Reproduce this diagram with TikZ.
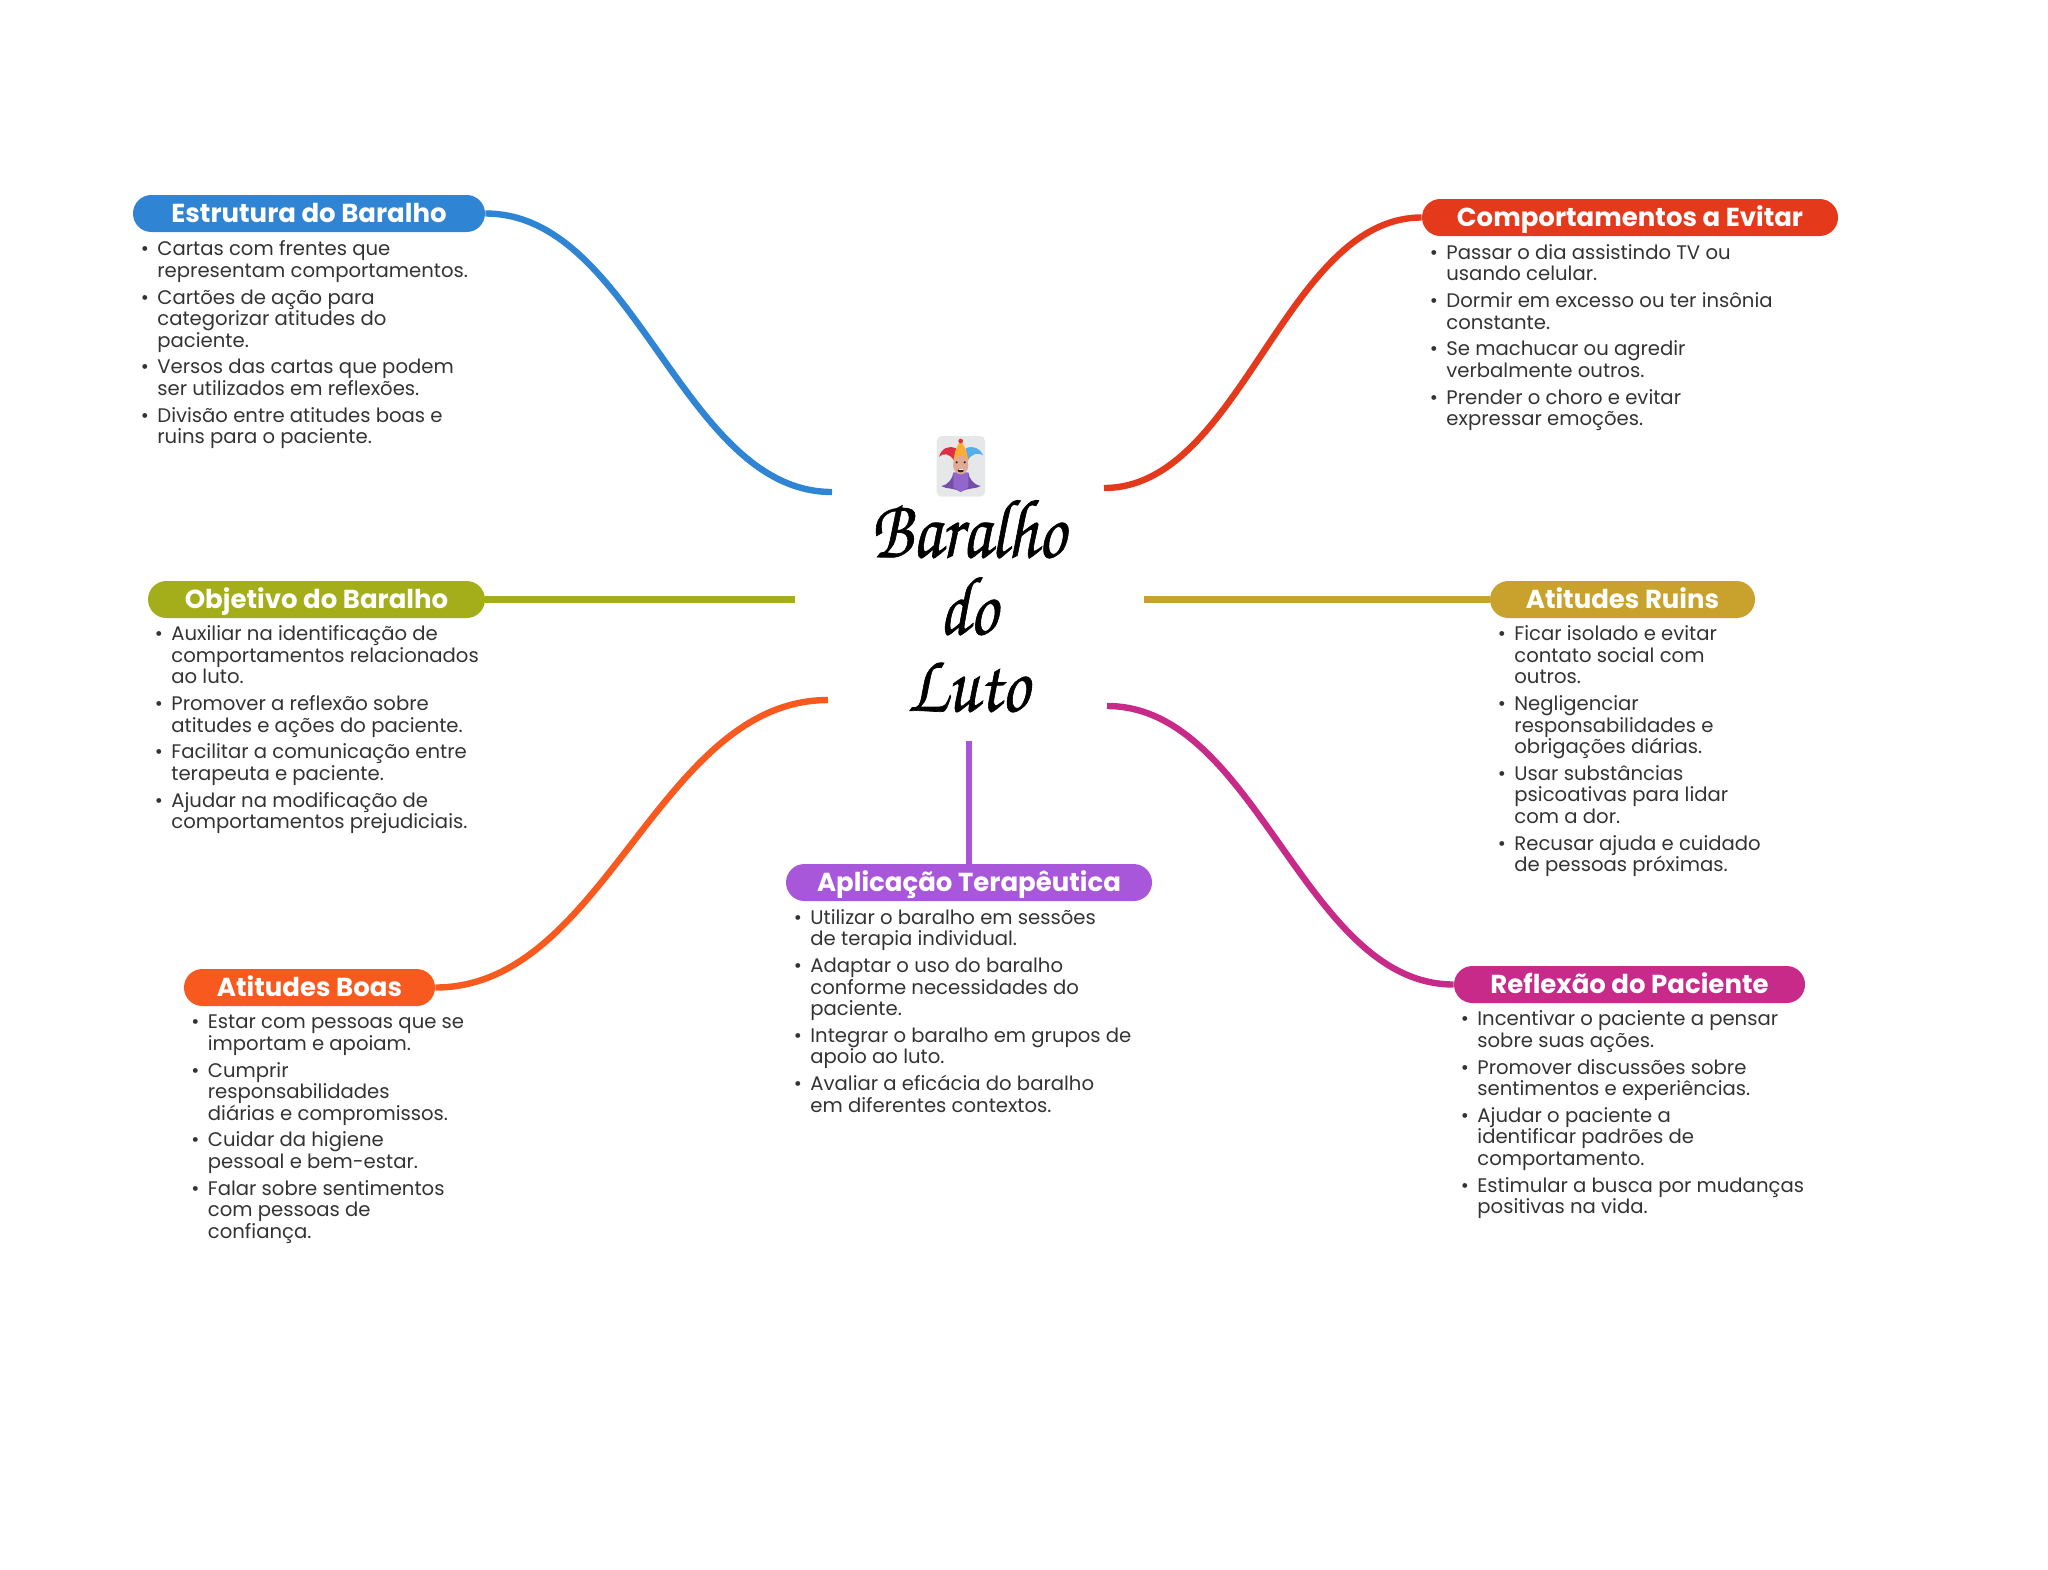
\documentclass[tikz,border=0pt]{standalone}
\usepackage{fontspec}
\setmainfont{Poppins}
\definecolor{cblue}{HTML}{3084D4}
\definecolor{cred}{HTML}{E5391B}
\definecolor{colive}{HTML}{A3AE1A}
\definecolor{cgold}{HTML}{C9A22E}
\definecolor{corange}{HTML}{F8591F}
\definecolor{cpurple}{HTML}{A856DA}
\definecolor{cmag}{HTML}{C72A88}
\definecolor{ctext}{HTML}{333333}
\newcommand{\bl}{\rule{0pt}{10pt}\llap{\textbullet\hspace{4.2pt}}}
\newcommand{\bk}{\llap{\textbullet\hspace{4.2pt}}}
\tikzset{
 pill/.style={rounded corners=9.2pt,minimum height=18.5pt,inner sep=0pt,fill=#1,text=white,text height=10pt,text depth=0.8pt,font=\fontsize{13}{15}\selectfont\bfseries},
 body/.style={anchor=north west,inner sep=0pt,align=left,text=ctext,font=\fontsize{9.82}{10.75}\selectfont},
 link/.style={line width=3.2pt,draw=#1},
 titletxt/.style={inner sep=0pt,align=center,text=black,xscale=0.82},
}
\begin{document}
\begin{tikzpicture}[x=0.5pt,y=-0.5pt]
\useasboundingbox (0,0) rectangle (2048,1569);
% pills
\node[pill=cblue,minimum width=176pt] (est) at (309,213.5) {Estrutura do Baralho};
\node[pill=cred,minimum width=208pt] (com) at (1630,217.5) {Comportamentos a Evitar};
\node[pill=colive,minimum width=168.5pt] (obj) at (316.5,599.5) {Objetivo do Baralho};
\node[pill=cgold,minimum width=132.5pt] (rui) at (1622.5,599.5) {Atitudes Ruins};
\node[pill=corange,minimum width=125.5pt] (boa) at (309.5,987.5) {Atitudes Boas};
\node[pill=cpurple,minimum width=183pt] (apl) at (969,882.5) {Aplicação Terapêutica};
\node[pill=cmag,minimum width=175.5pt] (ref) at (1629.5,984.5) {Reflexão do Paciente};
% bodies
\node[body] (best) at (157,235.5) {\bl Cartas com frentes que\\representam comportamentos.\\[2.6pt]
\bk Cartões de ação para\\categorizar atitudes do\\paciente.\\[2.6pt]
\bk Versos das cartas que podem\\ser utilizados em reflexões.\\[2.6pt]
\bk Divisão entre atitudes boas e\\ruins para o paciente.};
\node[body] (bcom) at (1446,239) {\bl Passar o dia assistindo TV ou\\usando celular.\\[2.6pt]
\bk Dormir em excesso ou ter insônia\\constante.\\[2.6pt]
\bk Se machucar ou agredir\\verbalmente outros.\\[2.6pt]
\bk Prender o choro e evitar\\expressar emoções.};
\node[body] (bobj) at (171,620.5) {\bl Auxiliar na identificação de\\comportamentos relacionados\\ao luto.\\[2.6pt]
\bk Promover a reflexão sobre\\atitudes e ações do paciente.\\[2.6pt]
\bk Facilitar a comunicação entre\\terapeuta e paciente.\\[2.6pt]
\bk Ajudar na modificação de\\comportamentos prejudiciais.};
\node[body] (brui) at (1514,620.5) {\bl Ficar isolado e evitar\\contato social com\\outros.\\[2.6pt]
\bk Negligenciar\\responsabilidades e\\obrigações diárias.\\[2.6pt]
\bk Usar substâncias\\psicoativas para lidar\\com a dor.\\[2.6pt]
\bk Recusar ajuda e cuidado\\de pessoas próximas.};
\node[body] (bboa) at (207.5,1008.5) {\bl Estar com pessoas que se\\importam e apoiam.\\[2.6pt]
\bk Cumprir\\responsabilidades\\diárias e compromissos.\\[2.6pt]
\bk Cuidar da higiene\\pessoal e bem-estar.\\[2.6pt]
\bk Falar sobre sentimentos\\com pessoas de\\confiança.};
\node[body] (bapl) at (810,904) {\bl Utilizar o baralho em sessões\\de terapia individual.\\[2.6pt]
\bk Adaptar o uso do baralho\\conforme necessidades do\\paciente.\\[2.6pt]
\bk Integrar o baralho em grupos de\\apoio ao luto.\\[2.6pt]
\bk Avaliar a eficácia do baralho\\em diferentes contextos.};
\node[body] (bref) at (1477,1005.5) {\bl Incentivar o paciente a pensar\\sobre suas ações.\\[2.6pt]
\bk Promover discussões sobre\\sentimentos e experiências.\\[2.6pt]
\bk Ajudar o paciente a\\identificar padrões de\\comportamento.\\[2.6pt]
\bk Estimular a busca por mudanças\\positivas na vida.};
% title
\node[titletxt,font=\usefont{OT1}{pzc}{m}{it}\fontsize{42}{38.5}\selectfont] (ttl) at (968,605) {\special{pdf:code 2 Tr 0.35 w}Baralho\\\special{pdf:code 2 Tr 0.35 w}do\\\special{pdf:code 2 Tr 0.35 w}Luto\special{pdf:code 0 Tr}};
% end points
\coordinate (eest) at (832,492);
\coordinate (ecom) at (1104,488);
\coordinate (eobj) at (795,599.5);
\coordinate (erui) at (1144,599.5);
\coordinate (eboa) at (828,700);
\coordinate (eapl) at (969,741);
\coordinate (eref) at (1107,706);
% connectors
\draw[link=cblue] (est.east) .. controls +(150,0) and +(-150,0) .. (eest);
\draw[link=cred] (com.west) .. controls +(-137,0) and +(137,0) .. (ecom);
\draw[link=colive] (obj.east) -- (eobj);
\draw[link=cgold] (rui.west) -- (erui);
\draw[link=corange] (boa.east) .. controls +(170,0) and +(-170,0) .. (eboa);
\draw[link=cpurple] (apl.north) -- (eapl);
\draw[link=cmag] (ref.west) .. controls +(-150,0) and +(150,0) .. (eref);
% jester icon
\definecolor{jbg}{HTML}{E6E7E8}
\definecolor{jred}{HTML}{DD2E44}
\definecolor{jblue}{HTML}{55ACEE}
\definecolor{jyel}{HTML}{FFAC33}
\definecolor{jpur}{HTML}{9266CC}
\definecolor{jdark}{HTML}{744EAA}
\definecolor{jskin}{HTML}{E0AA94}
\begin{scope}[shift={(800,400)},x=0.16667pt,y=-0.16667pt]
\fill[fill=jbg,rounded corners=2.5pt] (410,108) rectangle (555,290);
\fill[fill=jred] (468,145) .. controls (445,135) and (425,145) .. (417,170) .. controls (430,158) and (450,160) .. (462,182) -- cycle;
\fill[fill=jblue] (497,145) .. controls (520,135) and (540,145) .. (549,166) .. controls (535,156) and (515,160) .. (503,182) -- cycle;
\fill[fill=jyel] (482,122) .. controls (470,135) and (462,165) .. (460,182) -- (505,182) .. controls (503,165) and (494,135) .. (482,122) -- cycle;
\fill[fill=jred] (482,123) circle (7);
\fill[fill=jdark] (423,258) .. controls (445,255) and (458,235) .. (460,218) -- (505,218) .. controls (507,235) and (520,255) .. (543,258) .. controls (525,268) and (505,262) .. (482,276) .. controls (460,262) and (440,268) .. (423,258) -- cycle;
\fill[fill=jpur] (460,218) -- (505,218) -- (505,262) -- (482,276) -- (460,262) -- cycle;
\fill[fill=jskin] (482,195) ellipse [x radius=23,y radius=28];
\fill[fill=black!70!brown] (470,187) circle (3.5) (494,187) circle (3.5) (482,212) ellipse [x radius=9,y radius=5];
\fill[fill=white] (476,207) rectangle (488,210);
\end{scope}
\end{tikzpicture}
\end{document}
